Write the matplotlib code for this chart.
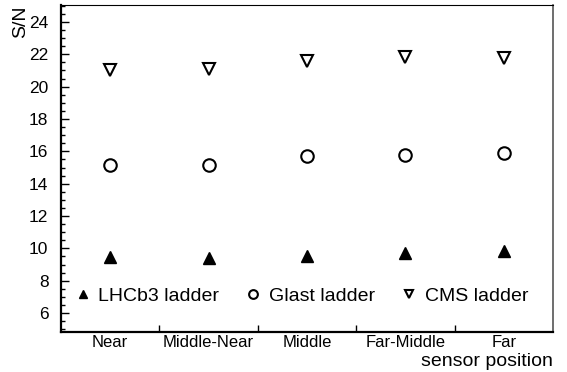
import matplotlib.pyplot as plt
from matplotlib.ticker import MultipleLocator, FixedLocator, NullFormatter

plt.rcParams['font.family'] = ['Liberation Sans', 'DejaVu Sans']

positions = ['Near', 'Middle-Near', 'Middle', 'Far-Middle', 'Far']
lhcb3 = [9.45, 9.4, 9.5, 9.7, 9.85]
glast = [15.15, 15.15, 15.7, 15.8, 15.9]
cms = [21.0, 21.1, 21.6, 21.85, 21.8]

x = [i + 0.5 for i in range(len(positions))]

fig = plt.figure(figsize=(5.67, 3.72), dpi=100)
ax = fig.add_axes([61 / 567, 1 - 332 / 372, 492 / 567, 327 / 372])

ax.plot(x, lhcb3, linestyle='none', marker='^', markersize=8, color='black',
        label='LHCb3 ladder')
ax.plot(x, glast, linestyle='none', marker='o', markersize=9, markerfacecolor='white',
        markeredgecolor='black', markeredgewidth=1.5, label='Glast ladder')
ax.plot(x, cms, linestyle='none', marker='v', markersize=9, markerfacecolor='white',
        markeredgecolor='black', markeredgewidth=1.5, label='CMS ladder')

ax.set_xlim(0, 5)
ax.set_ylim(4.83, 25.05)

ax.yaxis.set_major_locator(MultipleLocator(2))
ax.yaxis.set_minor_locator(MultipleLocator(0.5))
ax.xaxis.set_major_locator(FixedLocator([1, 2, 3, 4]))
ax.xaxis.set_major_formatter(NullFormatter())
ax.xaxis.set_minor_locator(FixedLocator(x))
ax.set_xticklabels(positions, minor=True)
ax.tick_params(axis='x', which='minor', length=0, labelsize=12, pad=2)
ax.tick_params(axis='x', which='major', direction='in', length=5, width=1)
ax.tick_params(axis='y', which='major', direction='in', length=6, width=1, labelsize=12.5, pad=9)
ax.tick_params(axis='y', which='minor', direction='in', length=3, width=1)

for side in ['left', 'bottom']:
    ax.spines[side].set_linewidth(1.6)
ax.spines['top'].set_linewidth(0.8)
ax.spines['right'].set_linewidth(1.2)
ax.spines['right'].set_color('#555555')

ax.text(-0.083, 1.0, 'S/N', transform=ax.transAxes, rotation=90, fontsize=14,
        ha='center', va='top')
ax.text(1.0, -0.064, 'sensor position', transform=ax.transAxes, fontsize=14,
        ha='right', va='top')

ax.legend(loc='lower center', bbox_to_anchor=(0.485, 0.03), ncol=3, frameon=False,
          fontsize=14, handletextpad=0.2, columnspacing=1.15, markerscale=0.7,
          handlelength=1.2)

plt.savefig('out.png', dpi=100)
